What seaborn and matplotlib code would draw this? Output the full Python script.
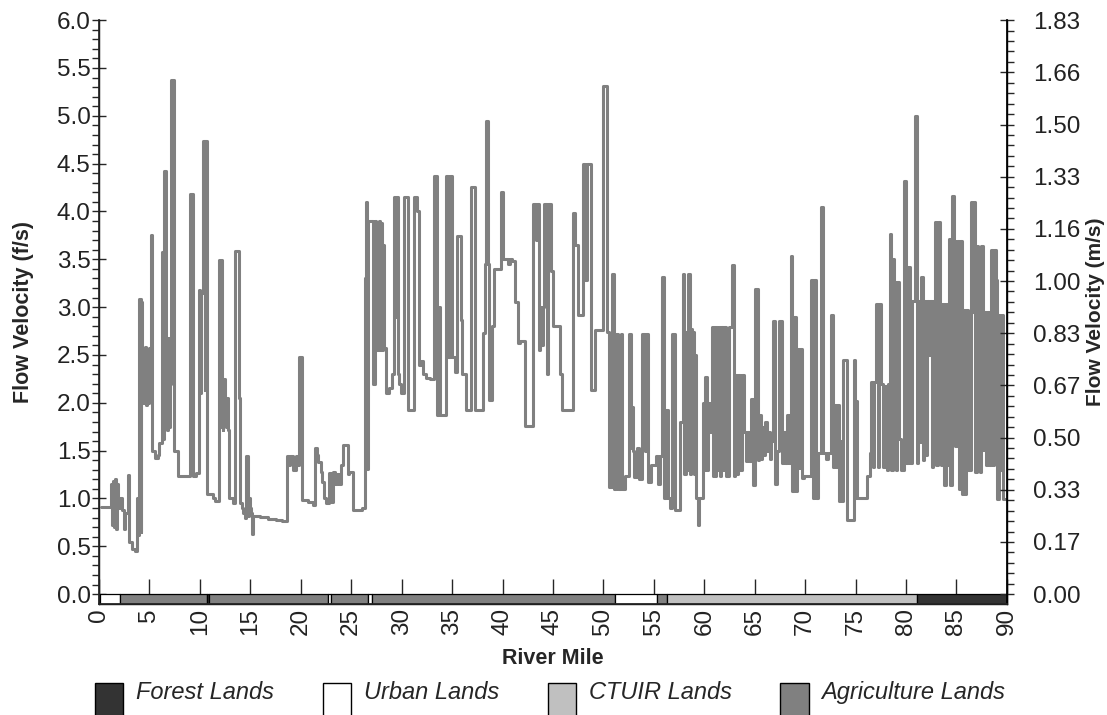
import numpy as np
import pandas as pd
import matplotlib
matplotlib.use("Agg")
import matplotlib.pyplot as plt
import seaborn as sns
from matplotlib.patches import Patch, Rectangle
from matplotlib.legend_handler import HandlerPatch
from matplotlib.ticker import FixedLocator, MultipleLocator

sns.set_theme(style="ticks")
plt.rcParams["font.family"] = ["Liberation Sans", "DejaVu Sans"]

# Reach-averaged flow velocity (ft/s), stepped at each river mile where a new reach starts
river_mile = [
    0.2, 1.2, 1.3, 1.4, 1.5, 1.6, 1.7, 1.8, 1.9, 2.1, 2.3, 2.5, 2.6, 2.9, 3.0, 3.3, 3.6, 3.75, 3.85, 3.95,
    4.0, 4.15, 4.2, 4.3, 4.4, 4.5, 4.6, 4.7, 4.8, 4.9, 5.0, 5.15, 5.3, 5.6, 5.9, 6.0, 6.2, 6.3, 6.4, 6.6,
    6.65, 6.72, 6.8, 6.88, 6.95, 7.02, 7.1, 7.45, 7.8, 9.05, 9.3, 9.6, 9.9, 10.05, 10.15, 10.3, 10.5, 10.55, 10.75, 11.3,
    11.5, 11.9, 12.0, 12.05, 12.15, 12.25, 12.3, 12.45, 12.55, 12.65, 12.8, 12.9, 13.3, 13.5, 13.9, 13.95, 14.0, 14.2, 14.3, 14.5,
    14.6, 14.75, 14.85, 14.95, 15.05, 15.15, 15.3, 16.0, 16.8, 17.5, 18.1, 18.6, 18.8, 18.9, 19.2, 19.5, 19.7, 19.8, 20.1, 20.7,
    21.2, 21.4, 21.6, 21.75, 22.0, 22.1, 22.3, 22.5, 22.8, 23.0, 23.15, 23.35, 23.6, 23.8, 24.0, 24.2, 24.7, 24.8, 25.2, 26.1,
    26.4, 26.5, 26.6, 26.7, 27.2, 27.4, 27.5, 27.6, 27.7, 27.8, 27.9, 28.0, 28.1, 28.2, 28.3, 28.45, 28.75, 29.0, 29.2, 29.35,
    29.45, 29.6, 29.75, 29.9, 30.2, 30.6, 31.2, 31.55, 31.7, 31.9, 32.1, 32.4, 32.8, 33.2, 33.5, 33.7, 33.8, 34.4, 34.6, 34.75,
    35.0, 35.3, 35.5, 35.9, 36.0, 36.4, 36.9, 37.3, 38.1, 38.25, 38.4, 38.55, 38.7, 39.0, 39.2, 39.85, 40.05, 40.5, 40.7, 40.9,
    41.2, 41.5, 41.7, 42.2, 43.0, 43.3, 43.4, 43.6, 43.7, 43.8, 44.0, 44.1, 44.4, 44.5, 44.8, 45.0, 45.3, 45.7, 45.9, 47.0,
    47.2, 47.5, 47.95, 48.2, 48.4, 48.8, 49.2, 49.95, 50.35, 50.6, 50.85, 51.1, 51.25, 51.4, 51.7, 51.8, 52.1, 52.5, 52.7, 52.8,
    52.95, 53.05, 53.3, 53.5, 53.8, 54.1, 54.2, 54.45, 54.7, 55.2, 55.4, 55.6, 55.85, 56.0, 56.2, 56.4, 56.6, 56.85, 57.05, 57.6,
    57.9, 58.0, 58.15, 58.3, 58.4, 58.55, 58.65, 58.75, 58.85, 58.95, 59.05, 59.15, 59.35, 59.45, 59.9, 60.0, 60.1, 60.3, 60.4, 60.6,
    60.8, 60.9, 61.0, 61.1, 61.2, 61.3, 61.45, 61.55, 61.7, 61.85, 62.0, 62.2, 62.45, 62.7, 62.9, 63.0, 63.2, 63.35, 63.5, 63.7,
    63.9, 64.1, 64.25, 64.4, 64.6, 64.8, 65.0, 65.3, 65.45, 65.6, 65.75, 65.9, 66.05, 66.2, 66.35, 66.5, 66.65, 66.8, 67.0, 67.25,
    67.4, 67.7, 67.85, 68.0, 68.2, 68.4, 68.55, 68.7, 68.9, 69.05, 69.2, 69.35, 69.5, 69.65, 69.9, 70.6, 70.75, 70.9, 71.05, 71.25,
    71.6, 71.8, 72.1, 72.3, 72.6, 72.75, 72.9, 73.05, 73.2, 73.35, 73.5, 73.65, 73.8, 74.1, 74.8, 74.9, 75.0, 75.15, 76.1, 76.4,
    76.55, 76.7, 76.85, 77.0, 77.2, 77.35, 77.55, 77.75, 77.9, 78.1, 78.25, 78.4, 78.55, 78.7, 78.85, 79.0, 79.15, 79.35, 79.5, 79.8,
    80.0, 80.2, 80.4, 80.6, 80.9, 81.1, 81.2, 81.35, 81.5, 81.65, 81.8, 81.95, 82.1, 82.25, 82.4, 82.55, 82.7, 82.85, 83.0, 83.15,
    83.35, 83.5, 83.65, 83.8, 83.95, 84.1, 84.25, 84.4, 84.6, 84.75, 84.9, 85.05, 85.2, 85.35, 85.5, 85.65, 85.8, 85.95, 86.1, 86.4,
    86.55, 86.7, 86.85, 87.0, 87.15, 87.3, 87.45, 87.6, 87.75, 87.9, 88.05, 88.2, 88.4, 88.6, 88.75, 88.9, 89.05, 89.2, 89.35, 89.5,
    89.65, 89.85,
]

velocity_fps = [
    0.91, 1.15, 0.72, 1.18, 0.70, 1.20, 0.68, 1.15, 0.90, 1.00, 0.88, 0.68, 0.85, 1.25, 0.55, 0.47, 0.45, 1.00, 0.62, 0.85,
    3.08, 0.65, 3.05, 2.00, 2.55, 2.00, 2.58, 1.98, 2.56, 2.00, 2.57, 3.75, 1.50, 1.42, 1.45, 1.58, 3.58, 1.62, 4.42, 1.75,
    2.25, 1.72, 2.20, 2.68, 1.75, 2.20, 5.37, 1.50, 1.24, 4.18, 1.24, 1.27, 3.18, 2.10, 3.15, 4.74, 2.13, 4.74, 1.05, 1.00,
    0.97, 3.49, 1.75, 3.49, 2.05, 1.72, 2.25, 2.05, 1.75, 2.05, 1.72, 1.00, 0.95, 3.59, 2.05, 1.69, 0.95, 0.90, 0.85, 0.80,
    1.44, 0.82, 1.00, 0.90, 0.85, 0.63, 0.82, 0.81, 0.79, 0.77, 0.76, 1.44, 1.35, 1.44, 1.30, 1.44, 1.35, 2.48, 0.98, 0.96,
    0.93, 1.53, 1.45, 1.38, 1.28, 1.17, 1.00, 0.95, 1.27, 0.96, 1.28, 1.15, 1.26, 1.15, 1.35, 1.56, 1.26, 1.28, 0.88, 0.90,
    3.30, 4.10, 1.31, 3.90, 2.20, 3.90, 2.55, 3.88, 2.55, 3.90, 2.55, 3.88, 2.55, 3.65, 2.57, 2.10, 2.15, 2.30, 4.15, 2.90,
    4.15, 2.30, 2.20, 2.10, 4.15, 1.92, 4.15, 4.00, 2.40, 2.44, 2.30, 2.26, 2.25, 4.37, 1.87, 3.00, 1.87, 4.37, 2.48, 4.37,
    2.48, 2.32, 3.74, 2.87, 2.30, 1.92, 4.26, 1.92, 2.73, 3.45, 4.95, 3.45, 2.03, 2.80, 3.40, 4.20, 3.50, 3.45, 3.50, 3.48,
    3.05, 2.62, 2.65, 1.76, 4.08, 3.70, 4.08, 2.55, 3.00, 2.60, 3.00, 4.08, 2.30, 4.08, 3.38, 2.80, 2.80, 2.30, 1.93, 3.98,
    3.65, 2.92, 4.50, 3.28, 4.50, 2.13, 2.76, 5.31, 2.74, 1.12, 3.35, 1.10, 2.72, 1.10, 2.72, 1.10, 1.24, 2.72, 1.53, 1.96,
    1.50, 1.22, 1.53, 1.20, 2.72, 1.50, 2.72, 1.17, 1.35, 1.44, 1.15, 1.44, 3.31, 1.00, 1.93, 1.00, 0.90, 2.72, 0.88, 1.80,
    3.35, 1.26, 2.74, 1.30, 3.35, 1.26, 2.77, 1.50, 2.74, 1.26, 2.50, 1.01, 0.72, 1.01, 2.00, 1.30, 2.27, 1.30, 2.00, 1.70,
    2.79, 1.23, 2.79, 1.23, 2.79, 1.30, 2.79, 1.23, 2.79, 1.30, 2.79, 1.23, 2.79, 3.44, 1.23, 2.29, 1.26, 2.29, 1.30, 2.29,
    1.69, 1.39, 1.69, 1.39, 2.04, 1.14, 3.19, 1.40, 1.87, 1.41, 1.75, 1.45, 1.80, 1.50, 1.70, 1.41, 1.60, 2.85, 1.15, 1.50,
    2.85, 1.37, 1.69, 1.37, 1.87, 1.37, 3.53, 1.08, 2.90, 1.08, 2.56, 1.32, 2.56, 1.21, 1.23, 3.28, 1.01, 3.28, 1.01, 1.48,
    4.05, 1.48, 1.41, 1.48, 2.92, 1.33, 1.98, 1.33, 1.98, 0.97, 1.60, 0.97, 2.45, 0.78, 2.45, 1.00, 2.02, 1.01, 1.24, 1.48,
    2.22, 1.33, 2.22, 3.03, 1.33, 3.03, 2.20, 1.33, 2.18, 1.30, 2.20, 3.76, 1.30, 3.50, 3.26, 1.30, 3.26, 1.62, 1.30, 4.32,
    1.37, 3.42, 1.37, 3.06, 5.00, 1.37, 3.06, 1.59, 3.31, 1.40, 3.06, 1.45, 3.06, 2.50, 3.06, 1.33, 3.06, 3.89, 1.35, 3.89,
    3.03, 1.35, 3.03, 1.14, 3.03, 1.35, 3.71, 1.14, 4.16, 3.69, 1.55, 3.69, 1.10, 3.69, 1.05, 2.97, 1.05, 2.97, 1.30, 4.10,
    2.95, 4.10, 1.28, 3.64, 2.95, 1.28, 3.64, 1.51, 2.95, 1.35, 2.95, 1.35, 3.60, 1.35, 3.60, 3.28, 0.99, 2.92, 1.30, 2.92,
    0.99, 0.99,
]

# Land ownership along the river corridor
reach_start = [0.1, 2.1, 10.7, 10.9, 22.7, 23.0, 26.7, 27.1, 51.2, 55.3, 56.3, 81.1]
reach_end = [2.1, 10.7, 10.9, 22.7, 23.0, 26.7, 27.1, 51.2, 55.3, 56.3, 81.1, 90.0]
reach_use = ["Urban Lands", "Agriculture Lands", "Forest Lands", "Agriculture Lands", "Urban Lands",
             "Agriculture Lands", "Urban Lands", "Agriculture Lands", "Urban Lands", "Agriculture Lands",
             "CTUIR Lands", "Forest Lands"]

land_names = ["Forest Lands", "Urban Lands", "CTUIR Lands", "Agriculture Lands"]
land_colors = ["#333333", "#ffffff", "#c0c0c0", "#808080"]
color_of = dict(zip(land_names, land_colors))

FT_TO_M = 0.3048
y_top = 6.0
strip_h = 0.105

df = pd.DataFrame({"mile": river_mile, "velocity": velocity_fps})

fig = plt.figure(figsize=(11.07, 7.15), dpi=100)
ax = fig.add_axes([0.0894, 0.155, 0.8202, 0.8168])

sns.lineplot(data=df, x="mile", y="velocity", ax=ax, estimator=None, sort=False,
             drawstyle="steps-post", color="#808080", linewidth=2.2, zorder=3)

# land-use band along the bottom of the plot
ax.broken_barh([(s, e - s) for s, e in zip(reach_start, reach_end)], (-strip_h, strip_h),
               facecolors=[color_of[u] for u in reach_use], edgecolor="black", linewidth=0.9, zorder=2)

ax.set_xlim(0, 90)
ax.set_ylim(-strip_h, y_top)

tick_font = 17.5
ax.set_xticks(np.arange(0, 91, 5))
ax.set_xticklabels([str(v) for v in range(0, 91, 5)], rotation=90)
ax.xaxis.set_minor_locator(MultipleLocator(1))
ax.tick_params(axis="x", which="major", direction="in", length=18, width=1, pad=3,
               labelsize=tick_font, labelcolor="#222222")
ax.tick_params(axis="x", which="minor", direction="in", length=6, width=1, bottom=True)

ax.set_yticks(np.arange(0, 6.01, 0.5))
ax.set_yticklabels([f"{v:.1f}" for v in np.arange(0, 6.01, 0.5)])
ax.yaxis.set_minor_locator(FixedLocator(np.arange(0, 6.001, 0.1)))
ax.tick_params(axis="y", which="major", direction="inout", length=10, width=1, pad=1,
               labelsize=tick_font, labelcolor="#222222")
ax.tick_params(axis="y", which="minor", direction="out", length=5, width=1, left=True)

for side in ["left", "bottom", "right"]:
    ax.spines[side].set_color("black")
    ax.spines[side].set_linewidth(1.0)
ax.spines["top"].set_visible(False)

ax.set_xlabel("River Mile", fontsize=15.5, fontweight="bold", labelpad=9)
ax.set_ylabel("Flow Velocity (f/s)", fontsize=15.5, fontweight="bold", labelpad=16)

# metric scale on the right
ax2 = ax.twinx()
ax2.set_ylim(-strip_h * FT_TO_M, y_top * FT_TO_M)
m_ticks = np.linspace(0, y_top * FT_TO_M, 12)
ax2.set_yticks(m_ticks)
ax2.set_yticklabels([f"{v:.2f}" for v in m_ticks])
ax2.yaxis.set_minor_locator(FixedLocator(np.linspace(0, y_top * FT_TO_M, 56)))
ax2.tick_params(axis="y", which="major", direction="inout", length=10, width=1, pad=14,
                labelsize=tick_font, labelcolor="#222222")
ax2.tick_params(axis="y", which="minor", direction="out", length=5, width=1, right=True)
ax2.spines["top"].set_visible(False)
ax2.spines["right"].set_color("black")
ax2.set_ylabel("Flow Velocity (m/s)", fontsize=15, fontweight="bold", rotation=90, labelpad=4)


def tall_swatch(legend, orig_handle, xdescent, ydescent, width, height, fontsize):
    # swatch hangs below the text line
    extra = 2.6 * height
    return Rectangle((-xdescent, -ydescent - extra), width, height + extra)


handles = [Patch(facecolor=c, edgecolor="black", linewidth=1.0, label=n)
           for n, c in zip(land_names, land_colors)]
fig.legend(handles=handles, loc="center", bbox_to_anchor=(0.497, 0.031), ncol=4, frameon=False,
           prop={"style": "italic", "size": 17, "family": "Liberation Sans"},
           handlelength=1.2, handleheight=0.7, handletextpad=0.55, columnspacing=2.05,
           handler_map={Patch: HandlerPatch(patch_func=tall_swatch)})

fig.savefig("out.png", dpi=100, facecolor="white")
